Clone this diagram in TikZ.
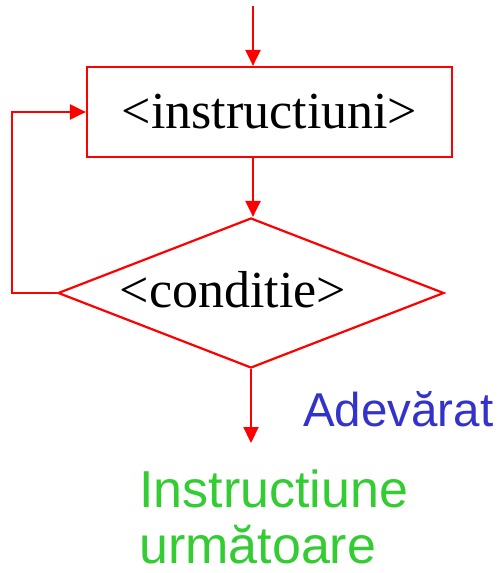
\documentclass[tikz,border=0pt]{standalone}
\usepackage{fontspec}
\setmainfont{Liberation Serif}
\newfontfamily\sansfont{Liberation Sans}
\usetikzlibrary{shapes.geometric,arrows.meta}
\definecolor{flowred}{RGB}{255,0,0}
\definecolor{truecol}{RGB}{51,51,204}
\definecolor{nextcol}{RGB}{51,204,51}
\tikzset{
  flow/.style={draw=flowred, line width=2.2pt},
  arr/.style={flow, -{Triangle[length=16pt,width=15pt]}},
  bigtext/.style={font=\fontsize{52}{56}\selectfont},
  sidetext/.style={inner sep=0, font=\sansfont\fontsize{#1}{56}\selectfont}
}
\begin{document}
\begin{tikzpicture}[x=1pt,y=-1pt]
\useasboundingbox (0,0) rectangle (500,573);

\coordinate (start) at (253,6); % entry point
\node[flow, bigtext, inner sep=0, minimum width=365pt, minimum height=90pt] (instr) at (269.5,112) {<instructiuni>}; % loop body
\node[flow, diamond, inner sep=0, minimum width=386pt, minimum height=150pt] (cond) at (251,293) {}; % test
\node[bigtext, anchor=base] (condtext) at (233,307) {<conditie>}; % test's label
\coordinate (loop) at (12,293); % back edge corner
\coordinate (exit) at (253,443); % exit point

\draw[arr] (start) -- (start |- instr.north); % in
\draw[arr] (start |- instr.south) -- (start |- cond.north); % body -> test
\draw[arr] (cond.west) -- (loop) |- (instr.west); % repeat
\draw[arr] (cond.south) -- (cond.south |- exit); % out

\node[sidetext=47.5, text=truecol, anchor=base west] (truelabel) at (303,426) {Adevărat}; % branch label
\node[sidetext=52, text=nextcol, align=left, anchor=base west] (next) at (139,563) {Instructiune\\următoare}; % next step

\end{tikzpicture}
\end{document}
